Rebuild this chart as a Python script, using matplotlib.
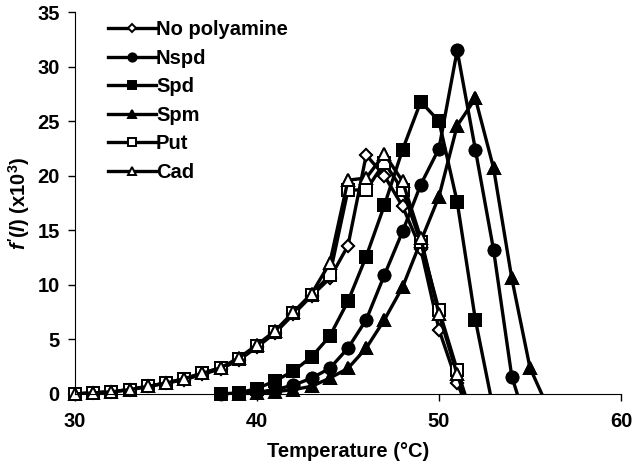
import matplotlib
matplotlib.use("Agg")
import matplotlib.pyplot as plt

plt.rcParams['font.family'] = ['Liberation Sans', 'DejaVu Sans']
plt.rcParams['font.weight'] = 'bold'
plt.rcParams['mathtext.fontset'] = 'custom'
plt.rcParams['mathtext.it'] = 'Liberation Sans:italic:bold'
plt.rcParams['mathtext.rm'] = 'Liberation Sans:bold'

# temperatures (C) and f'(l) values (x10^3); values below 0 are clipped by the axis
t_open = [30, 31, 32, 33, 34, 35, 36, 37, 38, 39, 40, 41, 42, 43, 44, 45, 46, 47, 48, 49, 50, 51, 52]
no_poly = [0, 0.1, 0.2, 0.4, 0.7, 1.0, 1.3, 1.8, 2.3, 3.1, 4.3, 5.6, 7.3, 9.0, 10.6, 13.6, 21.9, 20.0, 17.2, 13.3, 5.9, 1.0, -3]
put = [0, 0.1, 0.2, 0.4, 0.7, 1.0, 1.4, 1.9, 2.4, 3.2, 4.4, 5.7, 7.4, 9.1, 10.9, 18.7, 18.7, 21.2, 18.7, 13.9, 7.7, 2.2, -3]
cad = [0, 0.1, 0.2, 0.4, 0.7, 1.0, 1.4, 1.9, 2.4, 3.3, 4.5, 5.8, 7.5, 9.2, 12.0, 19.6, 19.8, 22.0, 19.5, 14.3, 7.3, 1.8, -3]

t_spd = [38, 39, 40, 41, 42, 43, 44, 45, 46, 47, 48, 49, 50, 51, 52, 53]
spd = [0.0, 0.1, 0.5, 1.2, 2.1, 3.4, 5.3, 8.5, 12.6, 17.3, 22.4, 26.8, 25.0, 17.6, 6.8, -1.5]

t_nspd = [38, 39, 40, 41, 42, 43, 44, 45, 46, 47, 48, 49, 50, 51, 52, 53, 54, 55]
nspd = [0, 0.05, 0.15, 0.4, 0.8, 1.45, 2.35, 4.2, 6.8, 10.9, 14.9, 19.2, 22.5, 31.5, 22.4, 13.2, 1.6, -3.7]

t_spm = [39, 40, 41, 42, 43, 44, 45, 46, 47, 48, 49, 50, 51, 52, 53, 54, 55, 56]
spm = [0, 0.05, 0.2, 0.4, 0.7, 1.45, 2.35, 4.2, 6.8, 9.8, 14.0, 18.1, 24.6, 27.1, 20.7, 10.6, 2.4, -1.3]

series = [
    ('No polyamine', t_open, no_poly, 'D', 6.5, 'white'),
    ('Nspd', t_nspd, nspd, 'o', 8.5, 'black'),
    ('Spd', t_spd, spd, 's', 8, 'black'),
    ('Spm', t_spm, spm, '^', 8.5, 'black'),
    ('Put', t_open, put, 's', 8, 'white'),
    ('Cad', t_open, cad, '^', 8.5, 'white'),
]

fig, ax = plt.subplots(figsize=(6.33, 4.69), dpi=100)
fig.subplots_adjust(left=0.1185, right=0.981, bottom=0.16, top=0.974)

for name, t, y, m, ms, fc in series:
    ax.plot(t, y, color='black', lw=2.4, marker=m, ms=ms, mfc=fc,
            mec='black', mew=1.4, label=name)
    # markers sitting on the axis are drawn whole, like the original
    keep = [i for i, v in enumerate(y) if v >= 0]
    ax.plot(t, y, ls='none', marker=m, ms=ms, mfc=fc, mec='black', mew=1.4,
            markevery=keep, clip_on=False)

ax.set_xlim(30, 60)
ax.set_ylim(0, 35)
ax.set_xticks([30, 40, 50, 60])
ax.set_yticks(range(0, 36, 5))
ax.spines['top'].set_visible(False)
ax.spines['right'].set_visible(False)
ax.tick_params(direction='out', length=5, width=1, labelsize=14.5)
ax.tick_params(axis='x', pad=8)
ax.tick_params(axis='y', pad=6)
for lab in ax.get_xticklabels() + ax.get_yticklabels():
    lab.set_fontweight('bold')

ax.set_xlabel('Temperature (°C)', fontsize=14.5, fontweight='bold', labelpad=8)
ax.set_ylabel(r"$\mathit{f'(l)}$ (x10$^3$)", fontsize=14.5, fontweight='bold', labelpad=4)

leg = ax.legend(loc='upper left', bbox_to_anchor=(0.045, 1.0), frameon=False,
                fontsize=14.5, markerscale=0.7, handlelength=2.4, handletextpad=0.0,
                labelspacing=0.47, borderaxespad=0)
for txt in leg.get_texts():
    txt.set_fontweight('bold')

fig.savefig('out.png', dpi=100)
